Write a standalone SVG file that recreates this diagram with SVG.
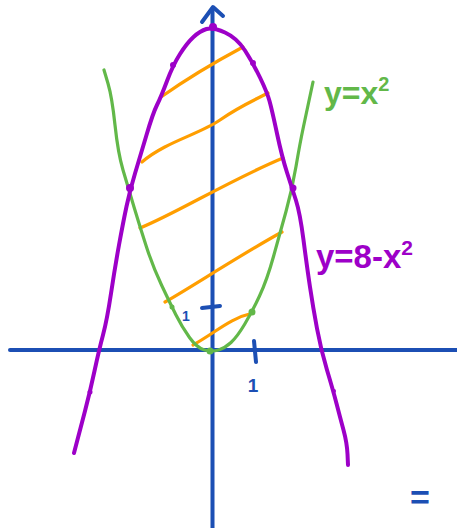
<svg xmlns="http://www.w3.org/2000/svg" width="457" height="528" viewBox="0 0 457 528">
<style>
.ax{fill:none;stroke:#1c4fb4;stroke-width:4;stroke-linecap:round;stroke-linejoin:round}
.gr{fill:none;stroke:#62b849;stroke-width:3.2;stroke-linecap:round;stroke-linejoin:round}
.pu{fill:none;stroke:#9d00c8;stroke-width:4;stroke-linecap:round;stroke-linejoin:round}
.or{fill:none;stroke:#ff9e00;stroke-width:3.2;stroke-linecap:round;stroke-linejoin:round}
.pd{fill:#9d00c8}
.gd{fill:#62b849}
.t{font-family:"Liberation Sans",Arial,sans-serif;font-weight:bold}
.tb{fill:#1c4fb4}
.tg{fill:#62b849}
.tp{fill:#9d00c8}
</style>
<rect width="457" height="528" fill="#ffffff"/>
<g id="axes">
<path class="ax" d="M10,350 L457,350"/>
<path class="ax" d="M212.5,9 L212.5,528"/>
<path class="ax" d="M202,22 L213,7 L223,16"/>
<path class="ax" d="M202,308 L220,306"/>
<path class="ax" d="M254,341 L256,362"/>
</g>
<g id="hatching">
<path class="or" d="M161,97 C185,80 215,62 243,47"/>
<path class="or" d="M142,162 C165,142 200,134 220,120 S255,100 268,93"/>
<path class="or" d="M140,228 C175,214 230,180 283,158"/>
<path class="or" d="M165,302 C190,288 240,255 282,232"/>
<path class="or" d="M193,345 C215,333 230,318 253,313"/>
</g>
<g id="curve-x2">
<path class="gr" d="M104,70 L108,83.5 Q112,97 115,125 Q118,153 123,170 Q128,187 134,207 Q140,227 146.5,247 Q153,267 161.5,285 Q170,303 176,315 Q182,327 189.5,337.5 Q197,348 204.5,350 Q212,352 218.5,350 Q225,348 231,342.5 Q237,337 244.5,324.5 Q252,312 259.5,296 Q267,280 273.5,256.5 Q280,233 286,211.5 Q292,190 296,166.5 Q300,143 303.5,126.5 Q307,110 310,96 L313,82"/>
<circle class="gd" cx="172" cy="307" r="2.5"/>
<circle class="gd" cx="252" cy="312" r="3.5"/>
<circle class="gd" cx="210" cy="351" r="3.5"/>
</g>
<g id="curve-8-x2">
<path class="pu" d="M74,453 L77,441.5 Q80,430 85,411 Q90,392 94.5,371 Q99,350 103,335 Q107,320 111,293.5 Q115,267 119,245 Q123,223 126.5,206.5 Q130,190 135,173.5 Q140,157 146.5,135 Q153,113 157,105 Q161,97 167,81 Q173,65 180,54 Q187,43 193.5,37 Q200,31 206.5,29 Q213,27 225,32.5 Q237,38 245,50.5 Q253,63 260,77.5 Q267,92 269.5,101 Q272,110 277,133.5 Q282,157 287,172.5 Q292,188 296,200.5 Q300,213 303.5,240 Q307,267 310,287 Q313,307 317,328.5 Q321,350 327,370 Q333,390 336.5,403.5 Q340,417 343.5,430 Q347,443 347.5,454 L348,465"/>
<circle class="pd" cx="213" cy="27" r="4"/>
<circle class="pd" cx="173" cy="65" r="3"/>
<circle class="pd" cx="253" cy="63" r="3"/>
<circle class="pd" cx="130" cy="188" r="4"/>
<circle class="pd" cx="293" cy="188" r="3.5"/>
<circle class="pd" cx="90" cy="392" r="2.5"/>
<circle class="pd" cx="334" cy="391" r="2"/>
</g>
<g id="labels">
<text class="t tg" x="324" y="104" font-size="32">y=x<tspan font-size="20" dy="-13">2</tspan></text>
<text class="t tp" x="316" y="268" font-size="33">y=8-x<tspan font-size="21" dy="-13">2</tspan></text>
<text class="t tb" x="186" y="321" font-size="14" text-anchor="middle">1</text>
<text class="t tb" x="253" y="392" font-size="19" text-anchor="middle">1</text>
<text class="t tb" x="420" y="509" font-size="34" text-anchor="middle">=</text>
</g>
</svg>
